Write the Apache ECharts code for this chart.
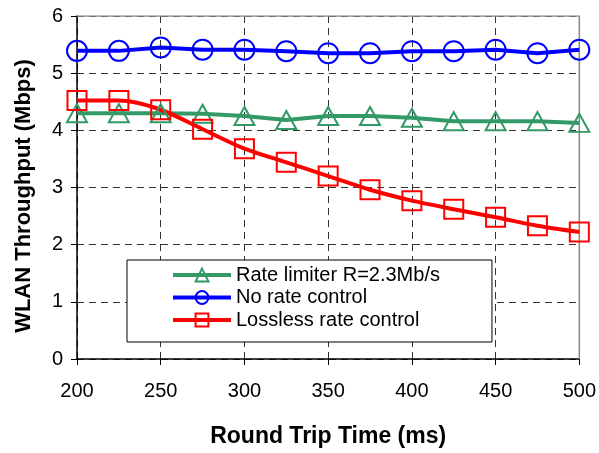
<!DOCTYPE html>
<html>
<head>
<meta charset="utf-8">
<script src="https://cdn.jsdelivr.net/npm/echarts@6/dist/echarts.min.js"></script>
<style>
  html, body { margin: 0; padding: 0; background: #fff; }
  #chart { width: 599px; height: 453px; }
</style>
</head>
<body>
<div id="chart"></div>
<script>
// Round trip time (ms) sampled every 25 ms
const rtt = [200, 225, 250, 275, 300, 325, 350, 375, 400, 425, 450, 475, 500];

// WLAN throughput (Mbps) per scheme
const rateLimiter = [4.30, 4.30, 4.30, 4.29, 4.25, 4.18, 4.25, 4.25, 4.22, 4.16, 4.16, 4.16, 4.13];
const noRateControl = [5.39, 5.39, 5.45, 5.41, 5.41, 5.385, 5.35, 5.35, 5.385, 5.385, 5.41, 5.35, 5.41];
const losslessRateControl = [4.52, 4.52, 4.36, 4.02, 3.68, 3.44, 3.20, 2.96, 2.77, 2.62, 2.48, 2.33, 2.22];

const seriesNames = ['Rate limiter R=2.3Mb/s', 'No rate control', 'Lossless rate control'];
const yTicks = [0, 1, 2, 3, 4, 5, 6];
const xTicks = [200, 250, 300, 350, 400, 450, 500];

const pairs = vals => rtt.map((x, i) => [x, vals[i]]);
const font = 'Liberation Sans, Arial, sans-serif';

function lineSeries(name, vals, color, symbol, size, smooth) {
  return {
    name: name,
    type: 'line',
    data: pairs(vals),
    smooth: smooth,
    symbol: symbol,
    symbolSize: size,
    showAllSymbol: true,
    lineStyle: { color: color, width: 4 },
    itemStyle: { color: 'rgba(255,255,255,0)', borderColor: color, borderWidth: 2 },
    emphasis: { disabled: true },
    z: 3
  };
}

const chart = echarts.init(document.getElementById('chart'), null, { renderer: 'canvas' });
chart.setOption({
  animation: false,
  backgroundColor: '#fff',
  grid: { left: 77, right: 17, top: 16, bottom: 91, show: false },
  legend: {
    data: seriesNames,
    orient: 'vertical',
    left: 127,
    top: 260,
    padding: [5, 52, 12, 44],
    itemGap: 2.5,
    itemWidth: 58,
    itemHeight: 16,
    backgroundColor: '#fff',
    borderColor: '#000',
    borderWidth: 1,
    lineStyle: { width: 4 },
    textStyle: { fontFamily: font, fontSize: 20, color: '#000' }
  },
  graphic: [{
    type: 'text',
    x: 24,
    y: 196,
    rotation: Math.PI / 2,
    style: {
      text: 'WLAN Throughput (Mbps)',
      fontFamily: font,
      fontSize: 22,
      fontWeight: 'bold',
      fill: '#000',
      textAlign: 'center',
      textVerticalAlign: 'middle'
    }
  }],
  xAxis: {
    type: 'value',
    min: 200,
    max: 500,
    interval: 50,
    name: 'Round Trip Time (ms)',
    nameLocation: 'middle',
    nameGap: 66,
    nameTextStyle: { fontFamily: font, fontSize: 23, fontWeight: 'bold', color: '#000' },
    axisLine: { show: true, lineStyle: { color: '#000', width: 1.5 } },
    axisTick: { show: true, length: 6, lineStyle: { color: '#000' } },
    axisLabel: { fontFamily: font, fontSize: 20, color: '#000', margin: 22,
      formatter: v => xTicks.includes(v) ? String(v) : '' },
    splitLine: { show: true, lineStyle: { color: '#333', type: [7, 5], width: 1 } }
  },
  yAxis: {
    type: 'value',
    min: 0,
    max: 6,
    interval: 1,
    axisLine: { show: true, lineStyle: { color: '#000', width: 1.5 } },
    axisTick: { show: true, length: 6, lineStyle: { color: '#000' } },
    axisLabel: { fontFamily: font, fontSize: 20, color: '#000', margin: 14,
      formatter: v => yTicks.includes(v) ? String(v) : '' },
    splitLine: { show: true, lineStyle: { color: '#333', type: [7, 5], width: 1 } }
  },
  series: [
    lineSeries(seriesNames[0], rateLimiter, '#339966', 'triangle', [20, 18], false),
    lineSeries(seriesNames[1], noRateControl, '#0000ff', 'circle', 20, false),
    lineSeries(seriesNames[2], losslessRateControl, '#ff0000', 'rect', 19, 0.3),
    {
      // frame on the top and right of the plot area
      type: 'line',
      data: [[200, 6], [500, 6], [500, 0]],
      symbol: 'none',
      silent: true,
      lineStyle: { color: '#888', width: 1.5 },
      z: 1
    }
  ]
});
</script>
</body>
</html>
